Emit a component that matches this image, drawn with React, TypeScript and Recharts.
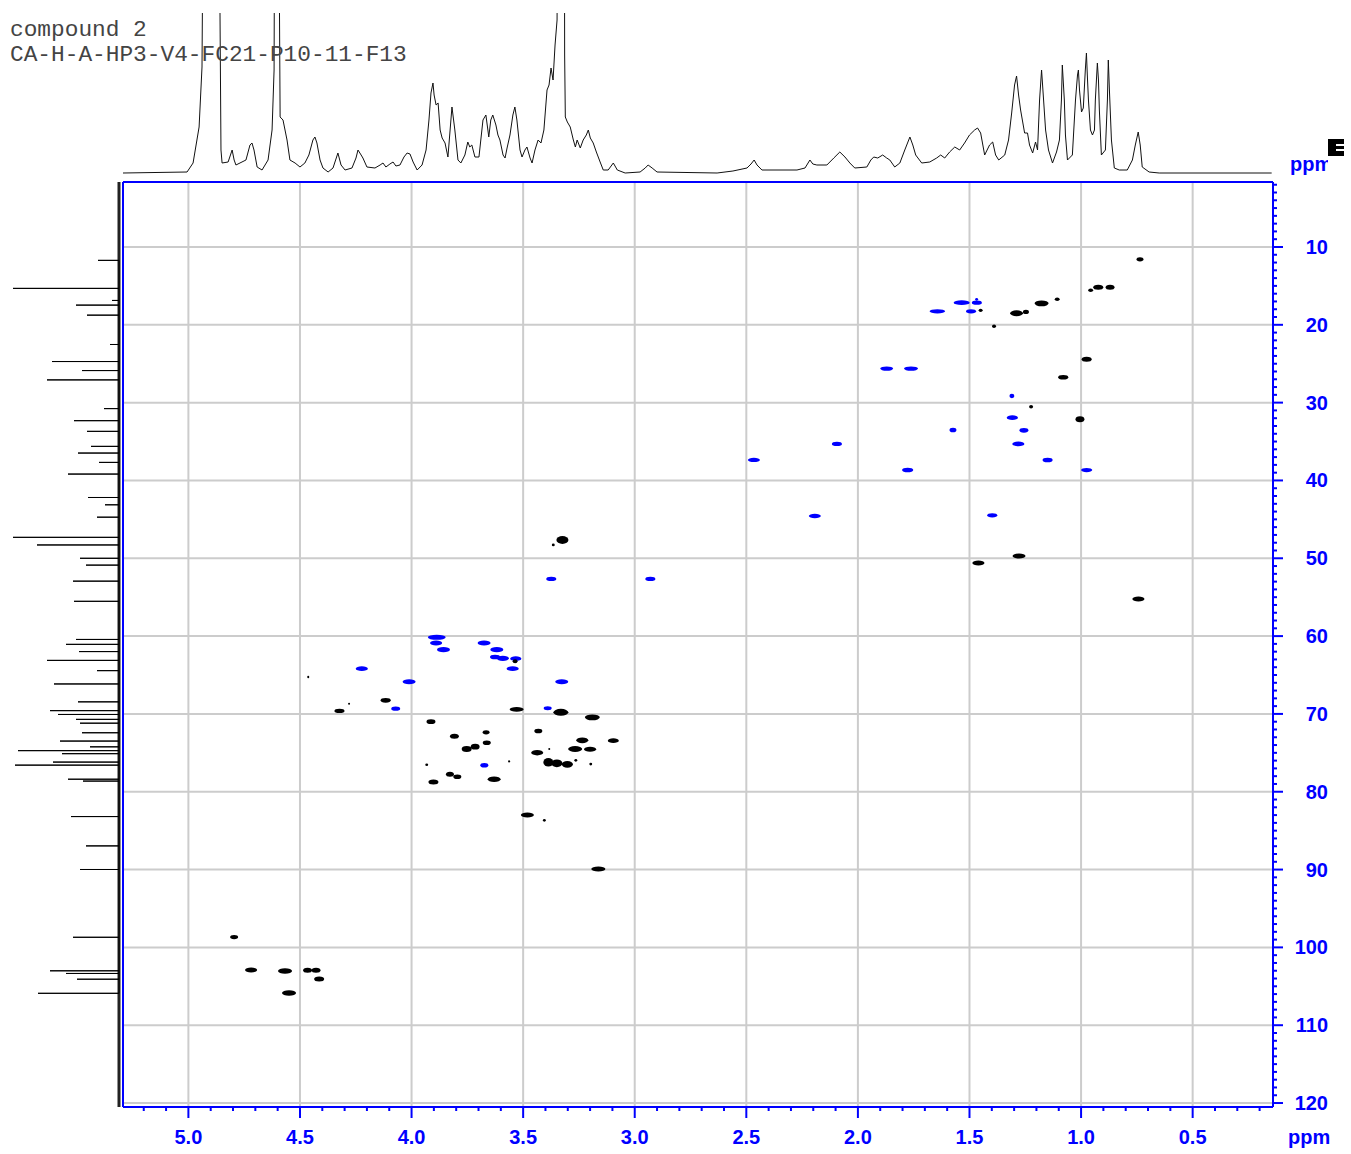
import React from 'react';
import { ScatterChart, Scatter, XAxis, YAxis, ReferenceLine, ReferenceArea } from 'recharts';

// ---- axis ranges (ppm) ----
const H_DOMAIN: [number, number] = [0.14, 5.293];
const C_DOMAIN: [number, number] = [1.65, 120.51];

// ---- tick values / labels ----
const H_MAJOR = [5.0, 4.5, 4.0, 3.5, 3.0, 2.5, 2.0, 1.5, 1.0, 0.5];
const H_LABELS = ['5.0', '4.5', '4.0', '3.5', '3.0', '2.5', '2.0', '1.5', '1.0', '0.5'];
const C_MAJOR = [10, 20, 30, 40, 50, 60, 70, 80, 90, 100, 110, 120];
const C_LABELS = ['10', '20', '30', '40', '50', '60', '70', '80', '90', '100', '110', '120'];
const H_MINOR = Array.from({ length: 51 }, (_, k) => (k + 2) / 10);
const C_MINOR = Array.from({ length: 119 }, (_, k) => k + 2);

// ---- 1H projection trace: [ppm, intensity] ----
const PROTON_TRACE: [number, number][] = [
  [5.293, 0], [5.006, 1], [4.979, 10], [4.952, 46], [4.939, 106], [4.93, 400], [4.866, 400], [4.854, 23],
  [4.849, 10], [4.822, 11], [4.804, 23], [4.795, 13], [4.787, 8], [4.742, 13], [4.724, 28], [4.715, 30],
  [4.706, 23], [4.692, 6], [4.67, 3], [4.643, 13], [4.625, 43], [4.616, 103], [4.612, 400], [4.598, 400],
  [4.589, 56], [4.576, 53], [4.567, 43], [4.558, 33], [4.545, 13], [4.522, 10], [4.5, 6], [4.478, 10],
  [4.46, 18], [4.442, 33], [4.433, 36], [4.424, 30], [4.41, 13], [4.397, 5], [4.374, 1], [4.352, 5],
  [4.33, 20], [4.316, 8], [4.298, 3], [4.267, 5], [4.249, 15], [4.24, 23], [4.226, 18], [4.218, 15],
  [4.2, 6], [4.164, 5], [4.141, 8], [4.128, 10], [4.115, 6], [4.097, 9], [4.083, 11], [4.07, 7],
  [4.052, 8], [4.034, 16], [4.02, 20], [4.007, 19], [3.993, 11], [3.975, 3], [3.953, 8], [3.935, 23],
  [3.922, 53], [3.913, 80], [3.904, 90], [3.899, 78], [3.89, 68], [3.881, 70], [3.872, 43], [3.863, 35],
  [3.85, 30], [3.837, 16], [3.819, 66], [3.806, 43], [3.792, 13], [3.779, 10], [3.761, 18], [3.748, 31],
  [3.739, 26], [3.73, 28], [3.716, 16], [3.698, 16], [3.68, 53], [3.667, 58], [3.658, 43], [3.654, 36],
  [3.645, 53], [3.636, 58], [3.622, 48], [3.613, 38], [3.604, 33], [3.59, 18], [3.581, 15], [3.572, 25],
  [3.559, 38], [3.546, 58], [3.537, 66], [3.528, 53], [3.514, 23], [3.505, 16], [3.492, 23], [3.483, 26],
  [3.469, 15], [3.46, 10], [3.447, 23], [3.433, 33], [3.42, 30], [3.407, 43], [3.393, 83], [3.384, 88],
  [3.375, 105], [3.366, 93], [3.357, 128], [3.348, 153], [3.343, 400], [3.316, 400], [3.314, 118], [3.311, 56],
  [3.302, 51], [3.289, 46], [3.275, 33], [3.266, 26], [3.258, 33], [3.244, 25], [3.231, 33], [3.217, 38],
  [3.208, 43], [3.199, 35], [3.186, 30], [3.172, 21], [3.155, 11], [3.141, 3], [3.119, 3], [3.096, 10],
  [3.078, 3], [3.043, 0], [2.976, 1], [2.953, 5], [2.94, 8], [2.922, 5], [2.9, 1], [2.631, 0],
  [2.56, 2], [2.497, 5], [2.479, 9], [2.465, 13], [2.452, 8], [2.43, 3], [2.273, 3], [2.237, 5],
  [2.215, 13], [2.202, 9], [2.184, 8], [2.139, 8], [2.108, 15], [2.081, 21], [2.058, 16], [2.036, 10],
  [2.014, 5], [1.96, 6], [1.942, 13], [1.929, 16], [1.911, 15], [1.889, 18], [1.871, 15], [1.857, 13],
  [1.835, 6], [1.812, 10], [1.79, 23], [1.767, 36], [1.754, 28], [1.741, 18], [1.714, 10], [1.678, 11],
  [1.647, 15], [1.629, 18], [1.611, 15], [1.589, 21], [1.566, 26], [1.544, 23], [1.522, 30], [1.5, 38],
  [1.477, 43], [1.464, 45], [1.45, 40], [1.432, 18], [1.41, 28], [1.396, 31], [1.383, 18], [1.369, 13],
  [1.342, 18], [1.325, 33], [1.311, 60], [1.298, 88], [1.289, 97], [1.28, 78], [1.271, 63], [1.253, 40],
  [1.24, 40], [1.231, 28], [1.217, 20], [1.204, 31], [1.195, 23], [1.186, 73], [1.177, 103], [1.168, 73],
  [1.159, 43], [1.146, 23], [1.128, 10], [1.11, 21], [1.097, 33], [1.088, 73], [1.084, 108], [1.075, 73],
  [1.07, 38], [1.061, 13], [1.039, 18], [1.025, 73], [1.016, 98], [1.012, 103], [1.007, 83], [0.998, 61],
  [0.99, 65], [0.981, 103], [0.976, 120], [0.972, 98], [0.967, 73], [0.958, 43], [0.949, 38], [0.94, 43],
  [0.936, 73], [0.927, 110], [0.922, 93], [0.918, 63], [0.909, 18], [0.891, 23], [0.882, 73], [0.878, 113],
  [0.873, 83], [0.864, 33], [0.851, 5], [0.829, 3], [0.793, 3], [0.77, 13], [0.757, 28], [0.744, 41],
  [0.735, 28], [0.726, 6], [0.695, 1], [0.65, 0], [0.146, 0],
];

// ---- 13C projection lines: [ppm, intensity] ----
const CARBON_LINES: [number, number][] = [
  [11.72, 21], [15.32, 106], [16.87, 7], [17.47, 43], [18.76, 32], [22.53, 9], [24.72, 67], [25.88, 37],
  [27.08, 72], [30.77, 15], [32.32, 45], [33.69, 32], [35.62, 28], [36.48, 41], [37.68, 20], [39.18, 51],
  [42.19, 31], [43.13, 14], [44.72, 22], [47.31, 106], [48.29, 82], [50.0, 39], [50.88, 33], [52.94, 46],
  [55.53, 45], [60.43, 43], [61.06, 53], [61.99, 40], [63.12, 72], [64.44, 22], [66.15, 65], [68.45, 41],
  [69.58, 69], [70.07, 61], [70.7, 43], [71.19, 39], [72.42, 37], [73.49, 59], [74.23, 29], [74.72, 101],
  [75.11, 57], [76.19, 66], [76.58, 104], [78.39, 51], [78.63, 36], [83.19, 48], [86.96, 33], [89.99, 39],
  [98.7, 46], [103.01, 69], [103.35, 53], [104.09, 42], [105.9, 81],
];

// ---- HSQC cross peaks: [1H ppm, 13C ppm, 1H extent, 13C extent] ----
const POSITIVE_PEAKS: [number, number, number, number][] = [
  [0.736, 11.58, 0.031, 0.55], [0.923, 15.18, 0.045, 0.65], [0.87, 15.18, 0.04, 0.65], [0.957, 15.57, 0.022, 0.45],
  [1.107, 16.72, 0.022, 0.45], [1.177, 17.24, 0.063, 0.75], [1.289, 18.52, 0.058, 0.75], [1.247, 18.35, 0.027, 0.55],
  [1.45, 18.14, 0.018, 0.4], [1.39, 20.19, 0.018, 0.45], [0.975, 24.43, 0.045, 0.65], [1.08, 26.74, 0.045, 0.6],
  [1.224, 30.52, 0.018, 0.45], [1.005, 32.14, 0.04, 0.75], [3.324, 47.65, 0.054, 1.0], [3.365, 48.29, 0.013, 0.35],
  [1.46, 50.61, 0.054, 0.65], [1.278, 49.71, 0.058, 0.65], [0.743, 55.23, 0.054, 0.65], [3.536, 63.24, 0.022, 0.5],
  [4.28, 68.69, 0.009, 0.25], [4.323, 69.62, 0.045, 0.55], [4.116, 68.25, 0.045, 0.6], [3.529, 69.41, 0.063, 0.6],
  [3.331, 69.8, 0.067, 0.9], [3.19, 70.44, 0.067, 0.75], [3.913, 71.0, 0.04, 0.6], [3.666, 72.36, 0.031, 0.55],
  [3.432, 72.19, 0.036, 0.6], [3.808, 72.88, 0.04, 0.65], [3.663, 73.7, 0.036, 0.6], [3.235, 73.39, 0.054, 0.75],
  [3.096, 73.44, 0.049, 0.6], [3.753, 74.51, 0.045, 0.75], [3.715, 74.21, 0.04, 0.75], [3.267, 74.51, 0.063, 0.75],
  [3.2, 74.55, 0.054, 0.65], [3.437, 74.98, 0.054, 0.7], [3.383, 74.51, 0.009, 0.25], [3.387, 76.22, 0.045, 1.1],
  [3.349, 76.35, 0.05, 1.0], [3.302, 76.48, 0.05, 0.85], [3.264, 75.96, 0.013, 0.35], [3.197, 76.44, 0.013, 0.35],
  [3.563, 76.09, 0.009, 0.3], [3.932, 76.53, 0.013, 0.3], [3.828, 77.76, 0.036, 0.65], [3.795, 78.07, 0.036, 0.6],
  [3.902, 78.75, 0.045, 0.65], [3.63, 78.4, 0.058, 0.7], [3.481, 82.99, 0.058, 0.65], [3.405, 83.67, 0.013, 0.35],
  [3.163, 89.93, 0.063, 0.65], [4.463, 65.26, 0.009, 0.3], [4.795, 98.67, 0.036, 0.55], [4.719, 102.91, 0.054, 0.65],
  [4.567, 103.04, 0.063, 0.7], [4.466, 102.95, 0.04, 0.65], [4.428, 102.95, 0.04, 0.65], [4.414, 104.06, 0.045, 0.65],
  [4.549, 105.86, 0.063, 0.7],
];

const NEGATIVE_PEAKS: [number, number, number, number][] = [
  [1.535, 17.15, 0.072, 0.6], [1.467, 17.15, 0.045, 0.55], [1.468, 16.72, 0.013, 0.35], [1.644, 18.27, 0.07, 0.55],
  [1.493, 18.27, 0.045, 0.55], [1.871, 25.63, 0.058, 0.55], [1.762, 25.63, 0.063, 0.55], [1.31, 29.15, 0.022, 0.55],
  [1.308, 31.93, 0.05, 0.6], [1.574, 33.52, 0.031, 0.6], [1.256, 33.56, 0.04, 0.6], [1.281, 35.31, 0.054, 0.6],
  [1.15, 37.37, 0.045, 0.6], [1.777, 38.66, 0.05, 0.6], [0.975, 38.66, 0.05, 0.55], [1.398, 44.48, 0.045, 0.55],
  [2.094, 35.31, 0.045, 0.55], [2.466, 37.37, 0.054, 0.55], [2.193, 44.57, 0.054, 0.55], [3.374, 52.66, 0.045, 0.55],
  [2.93, 52.66, 0.045, 0.55], [3.887, 60.16, 0.08, 0.65], [3.89, 60.89, 0.054, 0.65], [3.857, 61.74, 0.058, 0.65],
  [3.675, 60.89, 0.058, 0.65], [3.618, 61.74, 0.058, 0.65], [3.626, 62.69, 0.045, 0.6], [3.591, 62.86, 0.054, 0.65],
  [3.533, 62.9, 0.05, 0.6], [3.547, 64.19, 0.054, 0.6], [4.223, 64.19, 0.054, 0.6], [4.011, 65.86, 0.058, 0.65],
  [3.327, 65.86, 0.058, 0.65], [4.071, 69.33, 0.04, 0.55], [3.39, 69.28, 0.036, 0.5], [3.674, 76.6, 0.036, 0.6],
];

const BLUE = '#0000ff';
const GRID = '#cccccc';
const SANS = '"Liberation Sans", Arial, Helvetica, sans-serif';
const MONO = '"Liberation Mono", "DejaVu Sans Mono", monospace';

const protonData = PROTON_TRACE.map(([h, i]) => ({ h, i }));
const carbonData = CARBON_LINES.flatMap(([c, i]) => [
  { c, i: 0 },
  { c, i },
  { c, i: 0 },
]);
// peak centres, so the 2D axes carry the plotted data
const peakCentres = [...POSITIVE_PEAKS, ...NEGATIVE_PEAKS].map(([h, c]) => ({ h, c }));

const NoDot = () => <g />;

// contour blob: an ellipse filling the peak's extent
const PeakBlob = (p: any) => (
  <ellipse
    cx={p.x + p.width / 2}
    cy={p.y + p.height / 2}
    rx={Math.abs(p.width) / 2}
    ry={Math.abs(p.height) / 2}
    fill={p.fill}
  />
);

const ProtonTick = (p: any) => {
  const v = p.payload.value;
  const idx = H_MAJOR.findIndex((m) => Math.abs(m - v) < 1e-6);
  const major = idx >= 0;
  return (
    <g>
      <line x1={p.x} x2={p.x} y1={p.y} y2={p.y + (major ? 11 : 4)} stroke={BLUE} strokeWidth={2} />
      {major && (
        <text x={p.x} y={p.y + 37} textAnchor="middle" fill={BLUE} fontSize={20} fontWeight="bold" fontFamily={SANS}>
          {H_LABELS[idx]}
        </text>
      )}
    </g>
  );
};

const CarbonTick = (p: any) => {
  const v = p.payload.value;
  const idx = C_MAJOR.indexOf(v);
  const major = idx >= 0;
  return (
    <g>
      <line x1={p.x} x2={p.x + (major ? 10 : 4)} y1={p.y} y2={p.y} stroke={BLUE} strokeWidth={2} />
      {major && (
        <text x={p.x + 55} y={p.y + 7} textAnchor="end" fill={BLUE} fontSize={20} fontWeight="bold" fontFamily={SANS}>
          {C_LABELS[idx]}
        </text>
      )}
    </g>
  );
};

function HsqcMap() {
  return (
    <ScatterChart width={1351} height={1154} margin={{ top: 182, left: 123, right: 18, bottom: 17 }}>
      <XAxis
        type="number"
        dataKey="h"
        orientation="bottom"
        domain={H_DOMAIN}
        reversed
        allowDataOverflow
        ticks={H_MINOR}
        interval={0}
        tick={ProtonTick}
        tickLine={false}
        tickSize={0}
        tickMargin={0}
        height={30}
        axisLine={{ stroke: BLUE, strokeWidth: 2 }}
      />
      <YAxis
        type="number"
        dataKey="c"
        orientation="right"
        domain={C_DOMAIN}
        reversed
        allowDataOverflow
        ticks={C_MINOR}
        interval={0}
        tick={CarbonTick}
        tickLine={false}
        tickSize={0}
        tickMargin={0}
        width={60}
        axisLine={{ stroke: BLUE, strokeWidth: 2 }}
      />
      {H_MAJOR.map((v) => (
        <ReferenceLine key={'gx' + v} x={v} stroke={GRID} strokeWidth={2} zIndex={-100} />
      ))}
      {C_MAJOR.map((v) => (
        <ReferenceLine key={'gy' + v} y={v} stroke={GRID} strokeWidth={2} zIndex={-100} />
      ))}
      {/* frame: top and left edges of the plot box */}
      <ReferenceLine y={C_DOMAIN[0]} stroke={BLUE} strokeWidth={2} ifOverflow="visible" />
      <ReferenceLine x={H_DOMAIN[1]} stroke={BLUE} strokeWidth={2} ifOverflow="visible" />
      {NEGATIVE_PEAKS.map(([h, c, dh, dc], i) => (
        <ReferenceArea
          key={'n' + i}
          x1={h - dh / 2}
          x2={h + dh / 2}
          y1={c - dc / 2}
          y2={c + dc / 2}
          fill={BLUE}
          fillOpacity={1}
          stroke="none"
          ifOverflow="visible"
          zIndex={450}
          shape={PeakBlob}
        />
      ))}
      {POSITIVE_PEAKS.map(([h, c, dh, dc], i) => (
        <ReferenceArea
          key={'p' + i}
          x1={h - dh / 2}
          x2={h + dh / 2}
          y1={c - dc / 2}
          y2={c + dc / 2}
          fill="#000000"
          fillOpacity={1}
          stroke="none"
          ifOverflow="visible"
          zIndex={450}
          shape={PeakBlob}
        />
      ))}
      <Scatter data={peakCentres} shape={NoDot} isAnimationActive={false} />
    </ScatterChart>
  );
}

function ProtonProjection() {
  return (
    <ScatterChart width={1351} height={190} margin={{ top: 13, left: 123, right: 78, bottom: 15 }}>
      <XAxis type="number" dataKey="h" domain={H_DOMAIN} reversed allowDataOverflow hide />
      <YAxis type="number" dataKey="i" domain={[-2, 160]} allowDataOverflow hide />
      <Scatter
        data={protonData}
        line={{ stroke: '#111111', strokeWidth: 1 }}
        lineType="joint"
        shape={NoDot}
        isAnimationActive={false}
      />
    </ScatterChart>
  );
}

function CarbonProjection() {
  return (
    <ScatterChart width={130} height={1154} margin={{ top: 182, left: 9, right: 9, bottom: 47 }}>
      <XAxis type="number" dataKey="i" domain={[-2, 110]} reversed allowDataOverflow hide />
      <YAxis type="number" dataKey="c" domain={C_DOMAIN} reversed allowDataOverflow hide />
      <ReferenceLine x={0} stroke="#222222" strokeWidth={3} />
      <Scatter
        data={carbonData}
        line={{ stroke: '#000000', strokeWidth: 1 }}
        lineType="joint"
        shape={NoDot}
        isAnimationActive={false}
      />
    </ScatterChart>
  );
}

export default function App() {
  return (
    <div style={{ position: 'absolute', left: 0, top: 0, width: 1351, height: 1154, background: '#ffffff' }}>
      <div style={{ position: 'absolute', left: 0, top: 0 }}>
        <HsqcMap />
      </div>
      <div style={{ position: 'absolute', left: 0, top: 0 }}>
        <CarbonProjection />
      </div>
      <div style={{ position: 'absolute', left: 0, top: 0 }}>
        <ProtonProjection />
      </div>
      <svg width={1351} height={1154} style={{ position: 'absolute', left: 0, top: 0, pointerEvents: 'none' }}>
        <defs>
          <clipPath id="unitClip">
            <rect x={1280} y={140} width={48} height={45} />
          </clipPath>
        </defs>
        <text x={10} y={36} fontFamily={MONO} fontSize={22.8} fill="#444444">
          compound 2
        </text>
        <text x={10} y={61} fontFamily={MONO} fontSize={22.8} fill="#444444">
          CA-H-A-HP3-V4-FC21-P10-11-F13
        </text>
        <text x={1290} y={171} fontFamily={SANS} fontSize={20} fontWeight="bold" fill={BLUE} clipPath="url(#unitClip)">
          ppm
        </text>
        <text x={1288} y={1144} fontFamily={SANS} fontSize={20} fontWeight="bold" fill={BLUE}>
          ppm
        </text>
        <rect x={1328} y={139} width={16} height={17} fill="#000000" />
        <rect x={1336} y={144} width={8} height={2} fill="#ffffff" />
        <rect x={1336} y={149} width={8} height={2} fill="#ffffff" />
      </svg>
    </div>
  );
}
